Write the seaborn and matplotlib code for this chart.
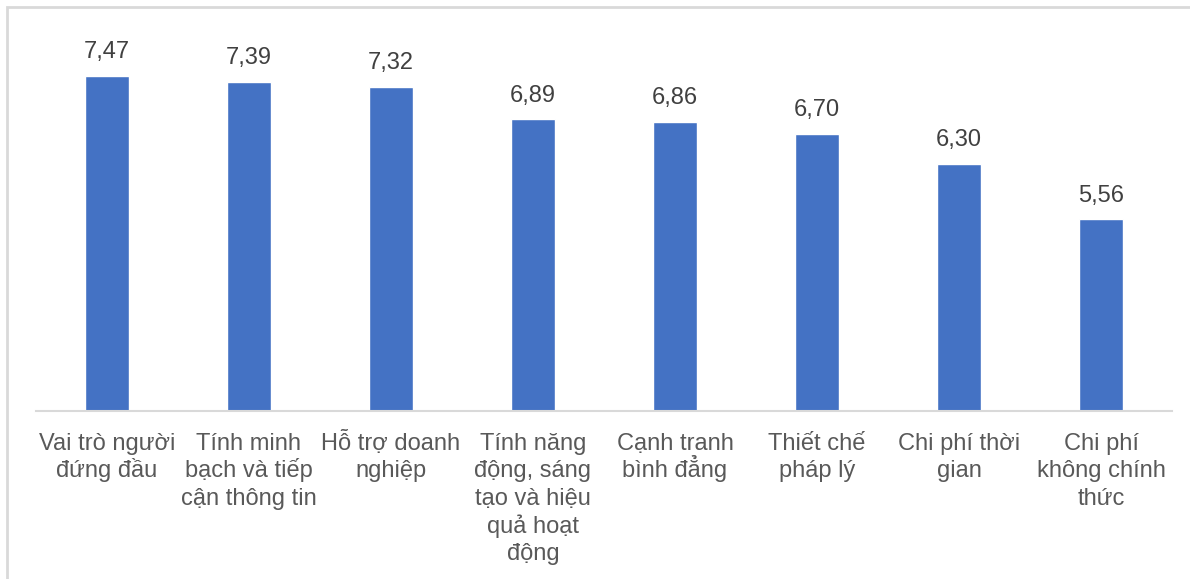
import matplotlib
matplotlib.use("Agg")
import matplotlib.pyplot as plt
import seaborn as sns
import pandas as pd
from matplotlib.patches import Rectangle

categories = [
    "Vai trò người\nđứng đầu",
    "Tính minh\nbạch và tiếp\ncận thông tin",
    "Hỗ trợ doanh\nnghiệp",
    "Tính năng\nđộng, sáng\ntạo và hiệu\nquả hoạt\nđộng",
    "Cạnh tranh\nbình đẳng",
    "Thiết chế\npháp lý",
    "Chi phí thời\ngian",
    "Chi phí\nkhông chính\nthức",
]
scores = [7.47, 7.39, 7.32, 6.89, 6.86, 6.70, 6.30, 5.56]

sns.set_theme(style="white")
plt.rcParams["font.family"] = ["Liberation Sans", "DejaVu Sans"]

df = pd.DataFrame({"category": categories, "score": scores})

fig = plt.figure(figsize=(11.9, 5.79), dpi=100)
ax = fig.add_axes([36 / 1190, 168 / 579, 1136 / 1190, 375 / 579])

sns.barplot(data=df, x="category", y="score", color="#4472C4",
            width=0.31, saturation=1, ax=ax)

ax.set_ylim(3, 8)
ax.set_xlim(-0.5, len(categories) - 0.5)
ax.set_xlabel("")
ax.set_ylabel("")
ax.set_yticks([])
for side in ["left", "right", "top"]:
    ax.spines[side].set_visible(False)
ax.spines["bottom"].set_color("#D9D9D9")
ax.spines["bottom"].set_linewidth(1.5)

# category labels: one text per line so every first line shares a baseline
ax.tick_params(axis="x", length=0)
ax.set_xticklabels([])
for i, label in enumerate(categories):
    for k, line in enumerate(label.split("\n")):
        ax.annotate(line, xy=(i, 0), xycoords=("data", "axes fraction"),
                    xytext=(0, -39 - 27.5 * k), textcoords="offset pixels",
                    ha="center", va="baseline", fontsize=17, color="#595959",
                    annotation_clip=False)

ax.bar_label(ax.containers[0],
             labels=[f"{v:.2f}".replace(".", ",") for v in scores],
             padding=9, fontsize=17, color="#404040")

# outer frame of the chart area
fig.patches.append(Rectangle((7 / 1190, -0.1), 1.2, 1.1 - 7 / 579,
                             transform=fig.transFigure, fill=False,
                             edgecolor="#D9D9D9", linewidth=2))

fig.savefig("out.png", dpi=100, facecolor="white")
